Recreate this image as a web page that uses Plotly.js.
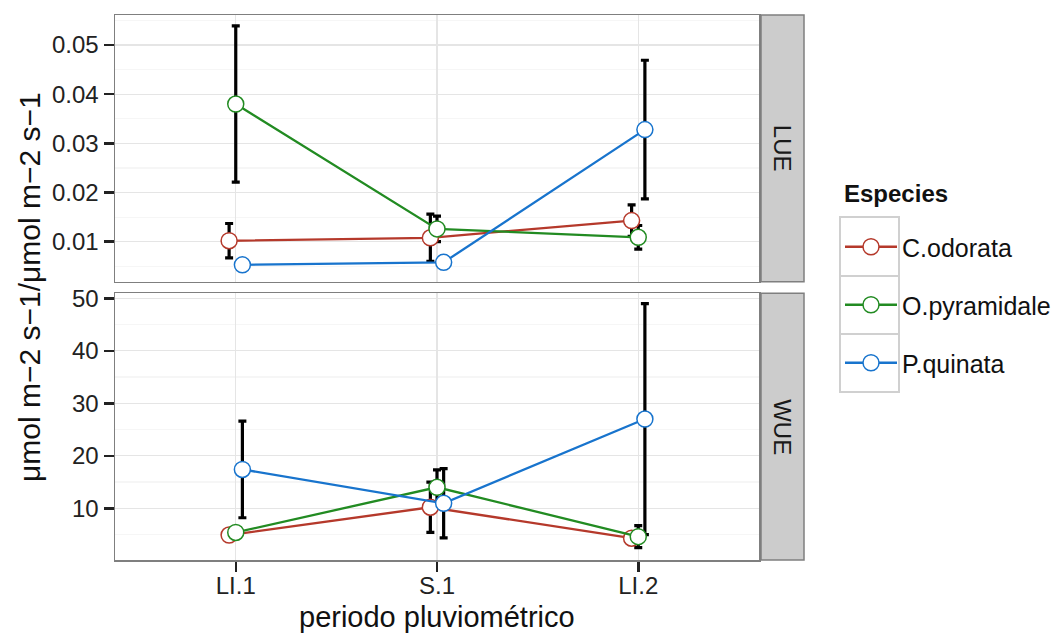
<!DOCTYPE html>
<html><head><meta charset="utf-8">
<script src="https://cdn.plot.ly/plotly-3.0.1.min.js"></script>
<style>html,body{margin:0;padding:0;background:#fff}</style>
</head><body><div id="chart" style="width:1059px;height:634px"></div>
<script>
// ---- data ----
const periods = ['LI.1', 'S.1', 'LI.2'];
const species = ['C.odorata', 'O.pyramidale', 'P.quinata'];
const panels = ['LUE', 'WUE'];

const lueCodorata      = [0.0102, 0.0108, 0.0143];
const lueCodorataErr   = [0.0035, 0.0048, 0.0032];
const lueOpyramidale   = [0.0380, 0.0126, 0.0109];
const lueOpyramidaleErr= [0.0159, 0.0026, 0.0024];
const luePquinata      = [0.0053, 0.0058, 0.0328];
const luePquinataErr   = [0.0006, 0.0006, 0.0141];

const wueCodorata      = [4.9, 10.2, 4.3];
const wueCodorataErr   = [0.8, 4.8, 1.0];
const wueOpyramidale   = [5.4, 14.0, 4.6];
const wueOpyramidaleErr= [0.8, 3.3, 2.1];
const wuePquinata      = [17.4, 10.95, 27.0];
const wuePquinataErr   = [9.2, 6.6, 22.0];

const lueTicks = [0.01, 0.02, 0.03, 0.04, 0.05];
const lueTickText = ['0.01', '0.02', '0.03', '0.04', '0.05'];
const wueTicks = [10, 20, 30, 40, 50];

// ---- styling ----
const colors = ['#B5392B', '#228B22', '#1874CD'];
const FONT = 'Liberation Sans, Arial, Helvetica, sans-serif';
const dodgeW = 0.033;

const lueVals = [lueCodorata, lueOpyramidale, luePquinata];
const lueErrs = [lueCodorataErr, lueOpyramidaleErr, luePquinataErr];
const wueVals = [wueCodorata, wueOpyramidale, wuePquinata];
const wueErrs = [wueCodorataErr, wueOpyramidaleErr, wuePquinataErr];

const idx = periods.map((p, i) => i);
function xs(s) { return idx.map(i => i + (s - 1) * dodgeW); }

const traces = [];
// error bars first (under lines and points)
[[lueVals, lueErrs, 'x', 'y'], [wueVals, wueErrs, 'x2', 'y2']].forEach(([vals, errs, xa, ya]) => {
  species.forEach((sp, s) => {
    traces.push({
      type: 'scatter', mode: 'markers', x: xs(s), y: vals[s],
      xaxis: xa, yaxis: ya, showlegend: false, hoverinfo: 'skip',
      marker: {size: 1, opacity: 0},
      error_y: {type: 'data', array: errs[s], visible: true, color: '#000', thickness: 3.2, width: 4}
    });
  });
});
[[lueVals, 'x', 'y', true], [wueVals, 'x2', 'y2', false]].forEach(([vals, xa, ya, leg]) => {
  species.forEach((sp, s) => {
    traces.push({
      type: 'scatter', mode: 'lines+markers', name: sp, x: xs(s), y: vals[s],
      xaxis: xa, yaxis: ya, showlegend: leg, legendgroup: sp,
      line: {color: colors[s], width: 2.3},
      marker: {size: 16, color: '#fff', line: {color: colors[s], width: 1.5}}
    });
  });
});

const W = 689, H = 545;
const xDom = [0, 644 / W];
const topDom = [(560 - 281.7) / H, 1];
const botDom = [0, (560 - 293.3) / H];
const stripX0 = (761 - 115) / W;

const gridCol = '#E5E5E5', minorCol = '#F6F6F6', border = '#7F7F7F';
const baseAxis = {
  showline: true, mirror: true, linecolor: border, linewidth: 1.5,
  zeroline: false, gridcolor: gridCol, gridwidth: 1.2,
  tickfont: {family: FONT, size: 24, color: '#222'},
  ticks: 'outside', ticklen: 10, tickwidth: 2.5, tickcolor: '#222'
};

const keyX0 = (840 - 115) / W, keyX1 = (899 - 115) / W;
function keyBox(yTop, yBot) {
  return {type: 'rect', xref: 'paper', yref: 'paper', x0: keyX0, x1: keyX1,
    y0: (560 - yBot) / H, y1: (560 - yTop) / H,
    fillcolor: 'rgba(0,0,0,0)', line: {color: '#D0D0D0', width: 2}};
}

const layout = {
  width: 1059, height: 634,
  margin: {l: 115, r: 255, t: 15, b: 74, autoexpand: false},
  paper_bgcolor: '#fff', plot_bgcolor: '#fff',
  font: {family: FONT, color: '#222'},
  xaxis: Object.assign({}, baseAxis, {domain: xDom, anchor: 'y', range: [-0.6, 2.6],
    tickvals: idx, ticktext: periods, showticklabels: false, ticks: ''}),
  xaxis2: Object.assign({}, baseAxis, {domain: xDom, anchor: 'y2', range: [-0.6, 2.6],
    tickvals: idx, ticktext: periods, ticklen: 10, ticklabelstandoff: -6}),
  yaxis: Object.assign({}, baseAxis, {domain: topDom, anchor: 'x', range: [0.00187, 0.0561],
    tickvals: lueTicks, ticktext: lueTickText,
    minor: {tickvals: [0.005, 0.015, 0.025, 0.035, 0.045, 0.055], showgrid: true, gridcolor: minorCol, ticks: ''}}),
  yaxis2: Object.assign({}, baseAxis, {domain: botDom, anchor: 'x2', range: [0.15, 50.95],
    tickvals: wueTicks,
    minor: {tickvals: [5, 15, 25, 35, 45], showgrid: true, gridcolor: minorCol, ticks: ''}}),
  shapes: [
    {type: 'rect', xref: 'paper', yref: 'paper', x0: stripX0, x1: 1, y0: topDom[0], y1: topDom[1],
     fillcolor: '#CCCCCC', line: {color: border, width: 1.5}},
    {type: 'rect', xref: 'paper', yref: 'paper', x0: stripX0, x1: 1, y0: botDom[0], y1: botDom[1],
     fillcolor: '#CCCCCC', line: {color: border, width: 1.5}},
    keyBox(217, 276), keyBox(276, 334), keyBox(334, 392)
  ],
  annotations: [
    {text: panels[0], xref: 'paper', yref: 'paper', x: (stripX0 + 1) / 2, y: (topDom[0] + topDom[1]) / 2,
     xanchor: 'center', yanchor: 'middle',
     textangle: 90, showarrow: false, font: {family: FONT, size: 24, color: '#1a1a1a'}},
    {text: panels[1], xref: 'paper', yref: 'paper', x: (stripX0 + 1) / 2, y: (botDom[0] + botDom[1]) / 2,
     xanchor: 'center', yanchor: 'middle',
     textangle: 90, showarrow: false, font: {family: FONT, size: 24, color: '#1a1a1a'}},
    {text: 'μmol m−2 s−1/μmol m−2 s−1', xref: 'paper', yref: 'paper', x: (29 - 115) / W, y: (560 - 287) / H,
     xanchor: 'center', yanchor: 'middle', textangle: -90, showarrow: false, font: {family: FONT, size: 30, color: '#111'}},
    {text: 'periodo pluviométrico', xref: 'paper', yref: 'paper', x: (437 - 115) / W, y: (560 - 617) / H,
     xanchor: 'center', yanchor: 'middle', showarrow: false, font: {family: FONT, size: 29, color: '#111'}},
    {text: '<b>Especies</b>', xref: 'paper', yref: 'paper', x: (842 - 115) / W, y: (560 - 193) / H,
     xanchor: 'left', yanchor: 'middle', showarrow: false, font: {family: FONT, size: 24, color: '#111'}}
  ],
  legend: {
    x: keyX0, xanchor: 'left', y: (560 - 224) / H, yanchor: 'top',
    font: {family: FONT, size: 25, color: '#111'},
    tracegroupgap: 22.5, itemwidth: 52, bgcolor: 'rgba(0,0,0,0)', borderwidth: 0
  },
  showlegend: true
};

Plotly.newPlot('chart', traces, layout, {displayModeBar: false, staticPlot: true});
</script>
</body></html>
